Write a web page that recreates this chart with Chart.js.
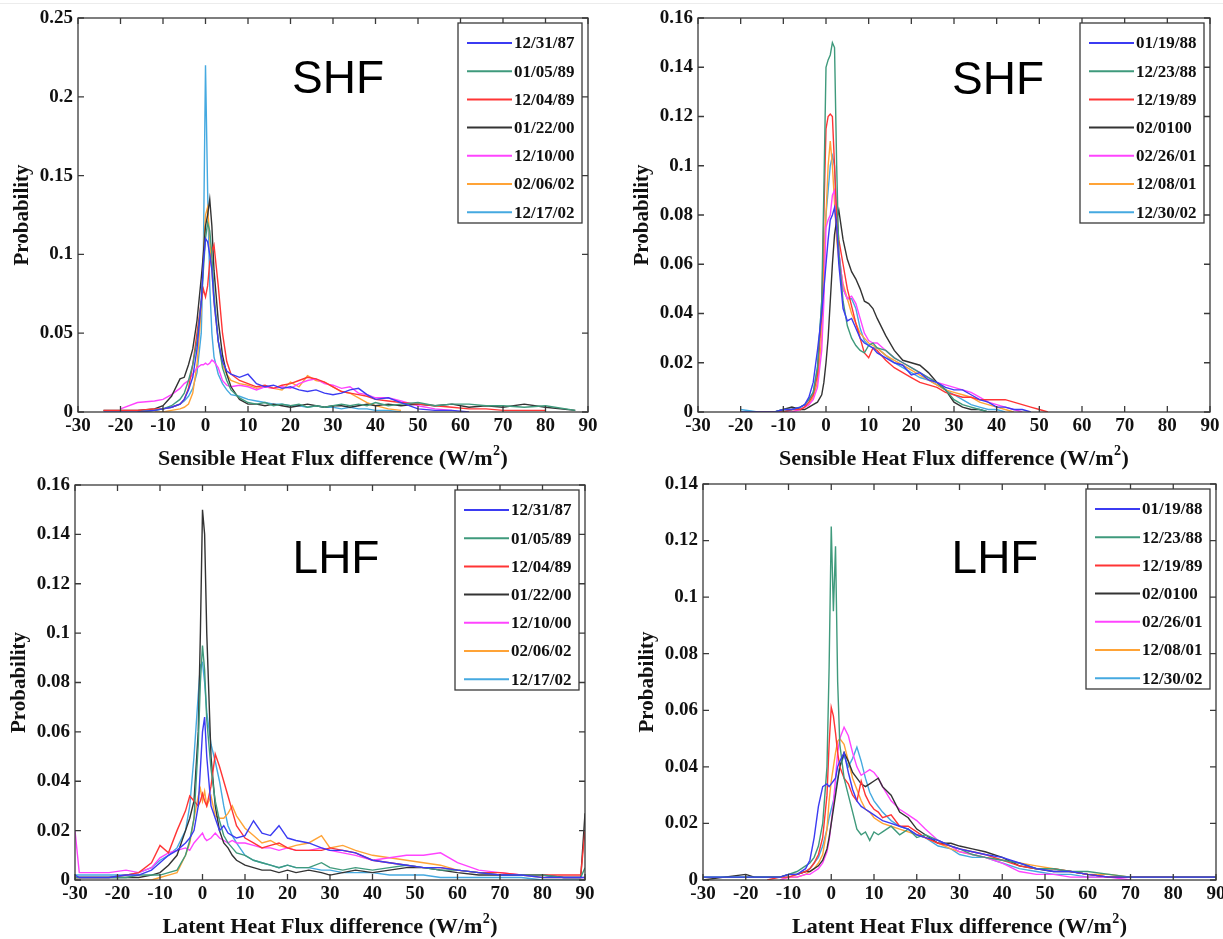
<!DOCTYPE html>
<html>
<head>
<meta charset="utf-8">
<title>SHF / LHF difference distributions</title>
<script src="https://cdn.jsdelivr.net/npm/chart.js@4.4.1/dist/chart.umd.min.js"></script>
<style>
  html, body { margin: 0; padding: 0; background: #fff; }
  #page { position: relative; width: 1223px; height: 939px; overflow: hidden; }
  .panel { position: absolute; }
  .rule { position: absolute; left: 0; top: 3px; width: 1223px; height: 1px; background: #ececec; }
</style>
</head>
<body>
<div id="page">
  <div class="rule"></div>
  <div class="panel" style="left:0;top:0;width:612px;height:470px"><canvas id="c1"></canvas></div>
  <div class="panel" style="left:612px;top:0;width:611px;height:470px"><canvas id="c2"></canvas></div>
  <div class="panel" style="left:0;top:470px;width:612px;height:469px"><canvas id="c3"></canvas></div>
  <div class="panel" style="left:612px;top:470px;width:611px;height:469px"><canvas id="c4"></canvas></div>
</div>
<script>
// ---- tick labels ----
const xTicks = [-30, -20, -10, 0, 10, 20, 30, 40, 50, 60, 70, 80, 90];
const yTicksShfLeft = [0, 0.05, 0.1, 0.15, 0.2, 0.25];
const yTicksShfRight = [0, 0.02, 0.04, 0.06, 0.08, 0.1, 0.12, 0.14, 0.16];
const yTicksLhfLeft = [0, 0.02, 0.04, 0.06, 0.08, 0.1, 0.12, 0.14, 0.16];
const yTicksLhfRight = [0, 0.02, 0.04, 0.06, 0.08, 0.1, 0.12, 0.14];

// ---- legend entries ----
const datesLeft = ['12/31/87', '01/05/89', '12/04/89', '01/22/00', '12/10/00', '02/06/02', '12/17/02'];
const datesRight = ['01/19/88', '12/23/88', '12/19/89', '02/0100', '02/26/01', '12/08/01', '12/30/02'];

// ---- top-left: sensible heat flux ----
const xShfLeft = [-24,-20,-16,-12,-10, -8,-6,-5,-4,-3, -2,-1,-0.5,0,0.5, 1,1.5,2,3,4, 5,6,8,10,12, 14,16,18,20,22, 24,26,28,30,32, 34,36,38,40,43, 46,50,54,58,62, 66,70,75,80,87];
const shfL123187 = [0,0,0,0.001,0.002, 0.003,0.005,0.008,0.014,0.022, 0.04,0.07,0.095,0.11,0.108, 0.1,0.09,0.07,0.045,0.032, 0.026,0.024,0.022,0.024,0.018, 0.016,0.017,0.015,0.016,0.014, 0.013,0.014,0.012,0.011,0.012, 0.014,0.015,0.011,0.008,0.009, 0.006,0.002,0.001,0.001,0, null,null,null,null,null];
const shfL010589 = [null,null,0,0.001,0.002, 0.004,0.008,0.012,0.02,0.03, 0.045,0.07,0.09,0.11,0.12, 0.115,0.1,0.075,0.045,0.028, 0.02,0.014,0.009,0.006,0.005, 0.006,0.004,0.005,0.004,0.005, 0.003,0.004,0.003,0.004,0.005, 0.004,0.005,0.004,0.006,0.004, 0.005,0.006,0.004,0.005,0.005, 0.004,0.004,0.003,0.004,0.001];
const shfL120489 = [0.001,0.001,0.001,0.002,0.002, 0.003,0.005,0.008,0.015,0.03, 0.05,0.07,0.078,0.073,0.08, 0.095,0.102,0.106,0.08,0.05, 0.032,0.024,0.02,0.018,0.016, 0.017,0.015,0.017,0.018,0.02, 0.022,0.021,0.019,0.016,0.013, 0.012,0.011,0.01,0.008,0.007, 0.006,0.005,0.004,0.003,0.002, 0.002,0.001,0.001,0.001,null];
const shfL012200 = [0.001,0.001,0.001,0.002,0.004, 0.01,0.021,0.022,0.03,0.04, 0.058,0.085,0.1,0.118,0.125, 0.135,0.118,0.09,0.058,0.036, 0.024,0.016,0.008,0.005,0.005, 0.004,0.005,0.004,0.003,0.004, 0.005,0.004,0.003,0.004,0.004, 0.003,0.004,0.005,0.004,0.005, 0.004,0.005,0.004,0.005,0.003, 0.004,0.003,0.005,0.003,0.001];
const shfL121000 = [null,0.002,0.006,0.007,0.008, 0.011,0.015,0.018,0.02,0.024, 0.028,0.03,0.03,0.031,0.03, 0.031,0.033,0.032,0.028,0.02, 0.017,0.016,0.017,0.016,0.014, 0.016,0.015,0.016,0.015,0.018, 0.02,0.021,0.018,0.017,0.015, 0.016,0.012,0.011,0.009,0.009, 0.007,0.004,0.002,0.001,null, null,null,null,null,null];
const shfL020602 = [null,null,null,0,0, 0.001,0.002,0.003,0.005,0.012, 0.03,0.065,0.1,0.125,0.13, 0.11,0.09,0.07,0.045,0.03, 0.024,0.02,0.018,0.017,0.015, 0.016,0.015,0.014,0.019,0.016, 0.023,0.02,0.019,0.016,0.013, 0.012,0.009,0.006,0.004,0.002, 0.001,null,null,null,null, null,null,null,null,null];
const shfL121702 = [null,null,0,0.001,0.002, 0.003,0.005,0.007,0.01,0.015, 0.025,0.05,0.1,0.22,0.14, 0.08,0.05,0.035,0.024,0.018, 0.014,0.011,0.01,0.008,0.007, 0.006,0.005,0.005,0.004,0.004, 0.003,0.004,0.003,0.003,0.002, 0.003,0.002,0.002,0.001,0.001, 0,null,null,null,null, null,null,null,null,null];

// ---- top-right: sensible heat flux ----
const xShfRight = [-20,-16,-12,-10,-8, -6,-5,-4,-3,-2, -1,-0.5,0,0.5,1, 1.5,2,2.5,3,4, 5,6,7,8,9, 10,11,12,14,16, 18,20,22,24,26, 28,30,32,34,36, 38,40,42,44,46, 48,50,52];
const shfR011988 = [0,0,0,0.001,0.001, 0.002,0.003,0.006,0.012,0.025, 0.04,0.05,0.06,0.07,0.078, 0.08,0.083,0.075,0.06,0.042, 0.037,0.038,0.034,0.03,0.028, 0.027,0.026,0.024,0.022,0.02, 0.019,0.015,0.016,0.013,0.012, 0.01,0.009,0.009,0.007,0.005, 0.004,0.002,0.002,0.001,0.001, 0,null,null];
const shfR122388 = [null,null,0,0.001,0.001, 0.002,0.003,0.005,0.008,0.018, 0.045,0.09,0.14,0.143,0.145, 0.15,0.148,0.1,0.065,0.045, 0.035,0.03,0.027,0.025,0.024, 0.027,0.028,0.026,0.025,0.022, 0.02,0.018,0.016,0.014,0.012, 0.009,0.005,0.003,0.002,0.001, 0,null,null,null,null, null,null,null];
const shfR121989 = [null,0,0,0,0.001, 0.001,0.002,0.004,0.007,0.015, 0.04,0.08,0.115,0.12,0.121, 0.12,0.1,0.08,0.07,0.06, 0.05,0.043,0.036,0.03,0.024, 0.022,0.026,0.025,0.021,0.018, 0.016,0.014,0.012,0.011,0.01, 0.008,0.007,0.006,0.006,0.005, 0.005,0.005,0.005,0.004,0.003, 0.002,0.001,0];
const shfR020100 = [0,0,0,0.001,0.002, 0.001,0.001,0.002,0.003,0.004, 0.007,0.012,0.02,0.03,0.045, 0.06,0.072,0.078,0.082,0.07, 0.062,0.057,0.054,0.05,0.045, 0.044,0.042,0.038,0.031,0.025, 0.021,0.02,0.019,0.016,0.012, 0.009,0.004,0.002,0.001,0.001, 0,0,null,null,null, null,null,null];
const shfR022601 = [null,null,0,0,0, 0.001,0.002,0.003,0.005,0.01, 0.025,0.045,0.075,0.078,0.08, 0.088,0.09,0.08,0.065,0.05, 0.046,0.047,0.044,0.038,0.032, 0.029,0.028,0.028,0.025,0.022, 0.02,0.018,0.016,0.014,0.012, 0.011,0.01,0.009,0.008,0.006, 0.004,0.003,0.002,0.001,0, null,null,null];
const shfR120801 = [null,null,0,0,0.001, 0.001,0.002,0.003,0.006,0.012, 0.03,0.06,0.08,0.1,0.11, 0.1,0.085,0.07,0.062,0.052, 0.046,0.04,0.036,0.032,0.03, 0.028,0.027,0.026,0.023,0.021, 0.019,0.017,0.015,0.013,0.011, 0.009,0.008,0.007,0.006,0.004, 0.003,0.002,0.001,0,null, null,null,null];
const shfR123002 = [0.001,0,0,0.001,0.001, 0.002,0.003,0.005,0.008,0.018, 0.045,0.06,0.08,0.09,0.1, 0.104,0.1,0.08,0.065,0.05, 0.046,0.046,0.042,0.034,0.029, 0.027,0.026,0.026,0.023,0.02, 0.018,0.016,0.014,0.013,0.011, 0.009,0.007,0.005,0.003,0.002, 0.001,0.001,0,null,null, null,null,null];

// ---- bottom-left: latent heat flux ----
const xLhfLeft = [-30,-29,-26,-22,-18, -15,-12,-10,-8,-6, -4,-3,-2,-1,-0.5, 0,0.5,1,2,3, 4,5,6,7,8, 10,12,14,16,18, 20,22,25,28,30, 33,36,40,44,48, 52,56,60,65,70, 75,80,85,89,90];
const lhfL123187 = [0.002,0.001,0.001,0.001,0.002, 0.002,0.004,0.007,0.01,0.012, 0.015,0.017,0.02,0.03,0.045, 0.06,0.066,0.05,0.03,0.025, 0.02,0.022,0.019,0.018,0.017, 0.018,0.024,0.019,0.018,0.022, 0.017,0.016,0.015,0.013,0.012, 0.012,0.011,0.008,0.007,0.006, 0.005,0.005,0.004,0.003,0.002, 0.002,0.001,0.001,0.001,0.001];
const lhfL010589 = [0.001,0.001,0.001,0.001,0.001, 0.002,0.002,0.002,0.003,0.004, 0.01,0.016,0.025,0.055,0.08, 0.095,0.085,0.065,0.045,0.032, 0.024,0.018,0.015,0.013,0.011, 0.01,0.008,0.007,0.006,0.005, 0.006,0.005,0.005,0.007,0.005, 0.004,0.005,0.004,0.005,0.006, 0.005,0.004,0.004,0.003,0.002, 0.002,0.002,0.001,0.001,0.005];
const lhfL120489 = [0.001,0.001,0.001,0.001,0.002, 0.003,0.007,0.014,0.011,0.02, 0.028,0.034,0.032,0.03,0.032, 0.035,0.032,0.03,0.038,0.051, 0.046,0.04,0.034,0.028,0.022, 0.017,0.015,0.013,0.014,0.015, 0.013,0.012,0.012,0.012,0.013, 0.012,0.011,0.008,0.007,0.006, 0.005,0.005,0.004,0.003,0.003, 0.002,0.002,0.002,0.002,0.02];
const lhfL012200 = [0.001,0.001,0.001,0.001,0.001, 0.001,0.002,0.003,0.006,0.01, 0.02,0.025,0.032,0.06,0.1, 0.15,0.14,0.1,0.05,0.03, 0.02,0.015,0.013,0.01,0.008, 0.006,0.005,0.004,0.004,0.003, 0.004,0.003,0.004,0.003,0.002, 0.003,0.004,0.003,0.004,0.005, 0.005,0.004,0.003,0.002,0.002, 0.002,0.002,0.001,0.001,0.027];
const lhfL121000 = [0.02,0.003,0.003,0.003,0.004, 0.003,0.005,0.009,0.011,0.012, 0.013,0.012,0.015,0.017,0.018, 0.019,0.017,0.016,0.017,0.019, 0.017,0.016,0.015,0.016,0.015, 0.015,0.014,0.013,0.013,0.012, 0.013,0.012,0.012,0.013,0.012, 0.011,0.01,0.008,0.009,0.01, 0.01,0.011,0.007,0.004,0.003, 0.002,0.002,0.001,0.001,0.001];
const lhfL020602 = [null,null,null,null,null, 0,0,0.001,0.002,0.003, 0.01,0.015,0.025,0.034,0.037, 0.032,0.036,0.03,0.034,0.026, 0.025,0.025,0.027,0.03,0.026, 0.021,0.018,0.015,0.016,0.014, 0.013,0.014,0.015,0.018,0.013, 0.014,0.012,0.01,0.009,0.008, 0.007,0.006,0.004,0.003,0.002, 0.002,0.001,0.001,0.001,null];
const lhfL121702 = [0.002,0.002,0.002,0.002,0.002, 0.003,0.005,0.008,0.01,0.013, 0.02,0.03,0.05,0.075,0.087, 0.088,0.08,0.068,0.055,0.048, 0.04,0.03,0.022,0.018,0.015, 0.01,0.008,0.007,0.006,0.005, 0.006,0.005,0.005,0.004,0.004, 0.003,0.003,0.003,0.002,0.002, 0.002,0.001,0.001,0.001,0.001, 0.001,0,0,0,0];

// ---- bottom-right: latent heat flux ----
const xLhfRight = [-30,-25,-20,-18,-15, -12,-10,-8,-6,-5, -4,-3,-2,-1,-0.5, 0,0.5,1,1.5,2, 3,4,5,6,7, 8,9,10,11,12, 14,16,18,20,22, 25,28,30,33,36, 40,44,48,52,56, 60,65,70,80,90];
const lhfR011988 = [0.001,0.001,0.001,0.001,0.001, 0.001,0.002,0.002,0.004,0.007, 0.015,0.026,0.033,0.034,0.033, 0.034,0.035,0.036,0.04,0.042, 0.045,0.038,0.032,0.028,0.026, 0.025,0.024,0.023,0.022,0.021, 0.02,0.019,0.018,0.016,0.015, 0.014,0.012,0.011,0.01,0.009, 0.008,0.006,0.004,0.003,0.003, 0.002,0.001,0.001,0.001,0.001];
const lhfR122388 = [0.001,0.001,0.001,0.001,0.001, 0.001,0.002,0.003,0.005,0.006, 0.008,0.012,0.02,0.04,0.075, 0.125,0.095,0.118,0.07,0.048, 0.036,0.03,0.024,0.018,0.016, 0.017,0.014,0.017,0.016,0.017, 0.019,0.016,0.018,0.015,0.016, 0.014,0.012,0.011,0.009,0.008, 0.007,0.006,0.004,0.004,0.003, 0.003,0.002,0.001,0.001,0.001];
const lhfR121989 = [null,null,null,null,0, 0.001,0.001,0.002,0.003,0.004, 0.006,0.009,0.015,0.03,0.048, 0.061,0.058,0.052,0.045,0.04, 0.036,0.034,0.03,0.028,0.035, 0.03,0.027,0.025,0.024,0.022, 0.023,0.019,0.019,0.017,0.015, 0.013,0.012,0.011,0.01,0.009, 0.007,0.005,0.004,0.004,0.003, 0.002,0.001,0.001,0.001,0.001];
const lhfR020100 = [0,0.001,0.002,0.001,0.001, 0.001,0.002,0.002,0.003,0.003, 0.004,0.005,0.007,0.011,0.015, 0.02,0.025,0.03,0.035,0.04, 0.045,0.042,0.038,0.036,0.034, 0.033,0.034,0.035,0.036,0.033, 0.03,0.024,0.022,0.018,0.016, 0.013,0.013,0.012,0.011,0.01, 0.008,0.005,0.004,0.003,0.003, 0.002,0.001,0.001,0.001,0.001];
const lhfR022601 = [null,null,null,null,null, 0,0.001,0.001,0.002,0.002, 0.003,0.004,0.006,0.01,0.014, 0.02,0.027,0.036,0.045,0.05, 0.054,0.051,0.045,0.04,0.037, 0.038,0.039,0.038,0.036,0.033, 0.028,0.025,0.023,0.021,0.018, 0.014,0.012,0.01,0.009,0.008, 0.006,0.003,0.002,0.002,0.001, 0.001,0.001,0,null,null];
const lhfR120801 = [null,null,null,null,null, 0,0.001,0.001,0.002,0.003, 0.004,0.006,0.009,0.018,0.028, 0.035,0.04,0.045,0.049,0.05, 0.048,0.042,0.036,0.032,0.028, 0.025,0.024,0.022,0.021,0.02, 0.019,0.018,0.017,0.016,0.015, 0.013,0.011,0.01,0.009,0.008, 0.007,0.006,0.005,0.004,0.003, 0.002,0.002,0.001,0.001,null];
const lhfR123002 = [0.001,0.001,0.001,0.001,0.001, 0.001,0.001,0.002,0.003,0.004, 0.006,0.008,0.012,0.018,0.022, 0.025,0.028,0.032,0.036,0.04, 0.044,0.04,0.043,0.047,0.042, 0.036,0.031,0.028,0.026,0.024, 0.021,0.019,0.018,0.016,0.015, 0.012,0.011,0.009,0.008,0.008, 0.006,0.004,0.003,0.002,0.002, 0.001,0.001,0.001,0.001,0.001];

// line colours, same order as the legend
const lineColors = ['#3b3bf2', '#3f9a7c', '#ff3535', '#333333', '#ff44ff', '#ffa336', '#45a9e0'];

const serif = '"Liberation Serif", "Times New Roman", serif';
Chart.defaults.font.family = serif;
Chart.defaults.color = '#111';

// box around the plot area with MATLAB style inward ticks on all four sides
const frameTicks = {
  id: 'frameTicks',
  afterDatasetsDraw(chart) {
    const { ctx, chartArea: a, scales } = chart;
    const len = 6;
    ctx.save();
    ctx.strokeStyle = '#3a3a3a';
    ctx.lineWidth = 1.3;
    ctx.beginPath();
    scales.x.ticks.forEach(t => {
      const px = scales.x.getPixelForValue(t.value);
      ctx.moveTo(px, a.bottom); ctx.lineTo(px, a.bottom - len);
      ctx.moveTo(px, a.top); ctx.lineTo(px, a.top + len);
    });
    scales.y.ticks.forEach(t => {
      const py = scales.y.getPixelForValue(t.value);
      ctx.moveTo(a.left, py); ctx.lineTo(a.left + len, py);
      ctx.moveTo(a.right, py); ctx.lineTo(a.right - len, py);
    });
    ctx.stroke();
    ctx.strokeRect(a.left, a.top, a.width, a.height);
    ctx.restore();
  }
};

// legend box drawn inside the top right corner of the plot
const insideLegend = {
  id: 'insideLegend',
  afterDraw(chart, args, opts) {
    const { ctx, chartArea: a } = chart;
    const w = 124, h = 200;
    const left = a.right - opts.gapRight - w;
    const top = a.top + opts.gapTop;
    ctx.save();
    ctx.fillStyle = '#fff';
    ctx.fillRect(left, top, w, h);
    ctx.strokeStyle = '#3a3a3a';
    ctx.lineWidth = 1.3;
    ctx.strokeRect(left, top, w, h);
    ctx.font = 'bold 17px ' + serif;
    ctx.textBaseline = 'middle';
    ctx.textAlign = 'left';
    chart.data.datasets.forEach((ds, i) => {
      const y = top + 20 + i * 28.2;
      ctx.strokeStyle = ds.borderColor;
      ctx.lineWidth = 2;
      ctx.beginPath();
      ctx.moveTo(left + 9, y);
      ctx.lineTo(left + 54, y);
      ctx.stroke();
      ctx.fillStyle = '#111';
      ctx.fillText(ds.label, left + 56, y + 1);
    });
    ctx.restore();
  }
};

// big SHF / LHF tag inside the plot, and the x axis title with a raised 2
const panelText = {
  id: 'panelText',
  afterDraw(chart, args, opts) {
    const { ctx, chartArea: a } = chart;
    ctx.save();
    ctx.font = '46px "Liberation Sans", Arial, sans-serif';
    ctx.fillStyle = '#000';
    ctx.textAlign = 'center';
    ctx.textBaseline = 'middle';
    ctx.fillText(opts.tag, a.left + opts.dx, a.top + opts.dy);

    const main = opts.xTitle + ' (W/m';
    const bigFont = 'bold 22px ' + serif;
    const supFont = 'bold 14px ' + serif;
    ctx.textAlign = 'left';
    ctx.textBaseline = 'alphabetic';
    ctx.font = bigFont;
    const w1 = ctx.measureText(main).width;
    const w3 = ctx.measureText(')').width;
    ctx.font = supFont;
    const w2 = ctx.measureText('2').width + 1;
    const base = a.bottom + 53;
    let x = (a.left + a.right) / 2 - (w1 + w2 + w3) / 2;
    ctx.fillStyle = '#111';
    ctx.font = bigFont;
    ctx.fillText(main, x, base);
    ctx.font = supFont;
    ctx.fillText('2', x + w1 + 0.5, base - 10);
    ctx.font = bigFont;
    ctx.fillText(')', x + w1 + w2, base);
    ctx.restore();
  }
};

function makePanel(id, xs, series, labels, yTicks, xTitle, tag, box) {
  const datasets = series.map((vals, i) => ({
    label: labels[i],
    data: xs.map((x, j) => ({ x: x, y: vals[j] })),
    borderColor: lineColors[i],
    borderWidth: 1.4,
    pointRadius: 0,
    tension: 0,
    spanGaps: false
  }));

  return new Chart(document.getElementById(id), {
    type: 'line',
    data: { datasets: datasets },
    plugins: [frameTicks, insideLegend, panelText],
    options: {
      responsive: true,
      maintainAspectRatio: false,
      animation: false,
      layout: { padding: { left: box.left, right: box.right, top: box.top, bottom: 0 } },
      plugins: {
        legend: { display: false },
        tooltip: { enabled: false },
        insideLegend: { gapRight: box.legRight, gapTop: 5 },
        panelText: { tag: tag.text, dx: tag.dx, dy: tag.dy, xTitle: xTitle }
      },
      scales: {
        x: {
          type: 'linear',
          min: xTicks[0],
          max: xTicks[xTicks.length - 1],
          afterBuildTicks: s => { s.ticks = xTicks.map(v => ({ value: v })); },
          afterFit: s => { s.height = box.xAxisH; s.paddingLeft = 0; s.paddingRight = 0; },
          grid: { display: false, drawTicks: false },
          border: { display: false },
          ticks: {
            color: '#111',
            font: { size: 19, weight: 'bold' },
            padding: 3,
            maxRotation: 0,
            autoSkip: false,
            callback: v => String(v)
          },
          title: { display: false }
        },
        y: {
          type: 'linear',
          min: 0,
          max: yTicks[yTicks.length - 1],
          afterBuildTicks: s => { s.ticks = yTicks.map(v => ({ value: v })); },
          afterFit: s => { s.width = 74; s.paddingTop = 0; s.paddingBottom = 0; },
          grid: { display: false, drawTicks: false },
          border: { display: false },
          ticks: {
            color: '#111',
            font: { size: 19, weight: 'bold' },
            padding: 5,
            callback: v => String(+v.toFixed(3))
          },
          title: {
            display: true,
            text: 'Probability',
            color: '#111',
            font: { size: 21, weight: 'bold' },
            padding: { top: 6, bottom: 0 }
          }
        }
      }
    }
  });
}

const shfTitle = 'Sensible Heat Flux difference';
const lhfTitle = 'Latent Heat Flux difference';

makePanel('c1', xShfLeft,
  [shfL123187, shfL010589, shfL120489, shfL012200, shfL121000, shfL020602, shfL121702],
  datesLeft, yTicksShfLeft, shfTitle,
  { text: 'SHF', dx: 260, dy: 62 },
  { left: 4, right: 24, top: 18, xAxisH: 58, legRight: 6 });

makePanel('c2', xShfRight,
  [shfR011988, shfR122388, shfR121989, shfR020100, shfR022601, shfR120801, shfR123002],
  datesRight, yTicksShfRight, shfTitle,
  { text: 'SHF', dx: 300, dy: 63 },
  { left: 12, right: 13, top: 18, xAxisH: 58, legRight: 6 });

makePanel('c3', xLhfLeft,
  [lhfL123187, lhfL010589, lhfL120489, lhfL012200, lhfL121000, lhfL020602, lhfL121702],
  datesLeft, yTicksLhfLeft, lhfTitle,
  { text: 'LHF', dx: 261, dy: 75 },
  { left: 1, right: 27, top: 15, xAxisH: 59, legRight: 6 });

makePanel('c4', xLhfRight,
  [lhfR011988, lhfR122388, lhfR121989, lhfR020100, lhfR022601, lhfR120801, lhfR123002],
  datesRight, yTicksLhfRight, lhfTitle,
  { text: 'LHF', dx: 292, dy: 76 },
  { left: 17, right: 7, top: 14, xAxisH: 59, legRight: 6 });
</script>
</body>
</html>
